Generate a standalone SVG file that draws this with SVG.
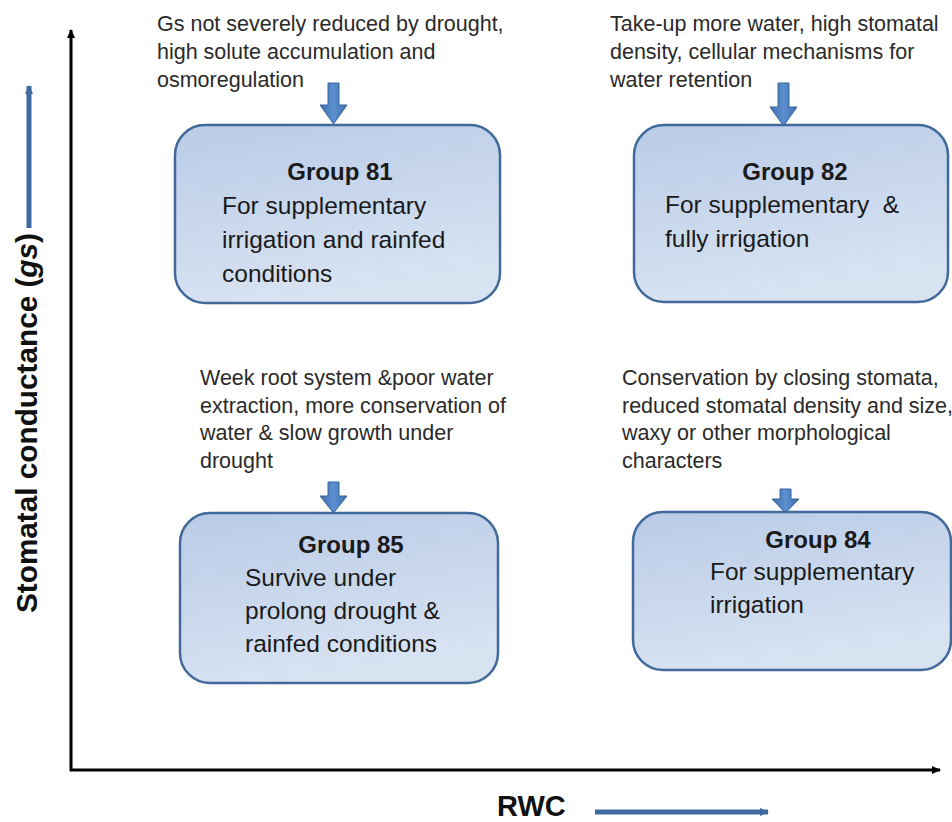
<svg xmlns="http://www.w3.org/2000/svg" width="952" height="822" viewBox="0 0 952 822">
  <defs>
    <linearGradient id="boxFill" x1="0" y1="0" x2="0.3" y2="1">
      <stop offset="0" stop-color="#b9cbe7"/>
      <stop offset="1" stop-color="#d8e3f2"/>
    </linearGradient>
    <linearGradient id="arrFill" x1="0" y1="0" x2="1" y2="0">
      <stop offset="0" stop-color="#3f6fae"/>
      <stop offset="0.5" stop-color="#5b8fd0"/>
      <stop offset="1" stop-color="#3f6fae"/>
    </linearGradient>
    <marker id="blackHead" markerWidth="10" markerHeight="10" refX="8" refY="5" orient="auto" markerUnits="userSpaceOnUse">
      <path d="M0,1 L9,5 L0,9 Z" fill="#000"/>
    </marker>
    <marker id="blueHead" markerWidth="10" markerHeight="10" refX="8" refY="5" orient="auto" markerUnits="userSpaceOnUse">
      <path d="M0,1 L9,5 L0,9 Z" fill="#3e6aa0"/>
    </marker>
  </defs>
  <style>
    .box { fill: url(#boxFill); stroke: #41699a; stroke-width: 2.5; }
    .note { font-family: "Liberation Sans", Arial, sans-serif; font-size: 21.5px; fill: #2a2a2a; }
    .title { font-family: "Liberation Sans", Arial, sans-serif; font-size: 24px; font-weight: bold; fill: #1a1a1a; }
    .body { font-family: "Liberation Sans", Arial, sans-serif; font-size: 24.5px; fill: #1a1a1a; }
    .axislabel { font-family: "Liberation Sans", Arial, sans-serif; font-size: 29px; font-weight: bold; fill: #111; }
    .blockarrow { fill: url(#arrFill); stroke: #3a6497; stroke-width: 1; }
    .axis { stroke: #000; stroke-width: 3; fill: none; }
    .bluearrow { stroke: #3e6aa0; stroke-width: 5; fill: none; }
  </style>
  <rect width="952" height="822" fill="#ffffff"/>

  <g id="axes">
    <line class="axis" x1="71" y1="771" x2="71" y2="30" marker-end="url(#blackHead)"/>
    <line class="axis" x1="70" y1="770" x2="940" y2="770" marker-end="url(#blackHead)"/>
    <line class="bluearrow" x1="29" y1="228" x2="29" y2="86" marker-end="url(#blueHead)"/>
    <line class="bluearrow" x1="595" y1="812" x2="768" y2="812" marker-end="url(#blueHead)"/>
    <text class="axislabel" transform="translate(37,613) rotate(-90)" textLength="380" lengthAdjust="spacingAndGlyphs">Stomatal conductance (<tspan font-style="italic">gs</tspan>)</text>
    <text class="axislabel" x="497" y="816" font-size="27">RWC</text>
  </g>

  <g id="connectors">
    <path class="blockarrow" d="M328,83 L339,83 L339,105 L347,105 L333.5,124 L320,105 L328,105 Z"/>
    <path class="blockarrow" d="M778,83 L789,83 L789,107 L797,107 L783.5,126 L770,107 L778,107 Z"/>
    <path class="blockarrow" d="M328,482 L339,482 L339,496 L347,496 L333.5,513 L320,496 L328,496 Z"/>
    <path class="blockarrow" d="M780,489 L791,489 L791,499 L799,499 L785.5,513 L772,499 L780,499 Z"/>
  </g>

  <g id="note81">
    <text class="note" x="157" y="31">Gs not severely reduced by drought,</text>
    <text class="note" x="157" y="59">high solute accumulation and</text>
    <text class="note" x="157" y="87">osmoregulation</text>
  </g>
  <g id="note82">
    <text class="note" x="610" y="31">Take-up more water, high stomatal</text>
    <text class="note" x="610" y="59">density, cellular mechanisms for</text>
    <text class="note" x="610" y="87">water retention</text>
  </g>
  <g id="note85">
    <text class="note" x="200" y="385">Week root system &amp;poor water</text>
    <text class="note" x="200" y="412.5">extraction, more conservation of</text>
    <text class="note" x="200" y="440">water &amp; slow growth under</text>
    <text class="note" x="200" y="467.5">drought</text>
  </g>
  <g id="note84">
    <text class="note" x="622" y="385">Conservation by closing stomata,</text>
    <text class="note" x="622" y="412.5">reduced stomatal density and size,</text>
    <text class="note" x="622" y="440">waxy or other morphological</text>
    <text class="note" x="622" y="467.5">characters</text>
  </g>

  <g id="group81">
    <rect class="box" x="175" y="125" width="325" height="178" rx="30"/>
    <text class="title" x="340" y="180" text-anchor="middle">Group 81</text>
    <text class="body" x="222" y="214">For supplementary</text>
    <text class="body" x="222" y="248">irrigation and rainfed</text>
    <text class="body" x="222" y="282">conditions</text>
  </g>
  <g id="group82">
    <rect class="box" x="634" y="125" width="314" height="177" rx="30"/>
    <text class="title" x="795" y="180" text-anchor="middle">Group 82</text>
    <text class="body" x="665" y="213">For supplementary&#160; &amp;</text>
    <text class="body" x="665" y="247">fully irrigation</text>
  </g>
  <g id="group85">
    <rect class="box" x="180" y="513" width="318" height="170" rx="30"/>
    <text class="title" x="351" y="553" text-anchor="middle">Group 85</text>
    <text class="body" x="245" y="586">Survive under</text>
    <text class="body" x="245" y="619">prolong drought &amp;</text>
    <text class="body" x="245" y="652">rainfed conditions</text>
  </g>
  <g id="group84">
    <rect class="box" x="633" y="512" width="318" height="158" rx="30"/>
    <text class="title" x="818" y="548" text-anchor="middle">Group 84</text>
    <text class="body" x="710" y="580">For supplementary</text>
    <text class="body" x="710" y="613">irrigation</text>
  </g>
</svg>
